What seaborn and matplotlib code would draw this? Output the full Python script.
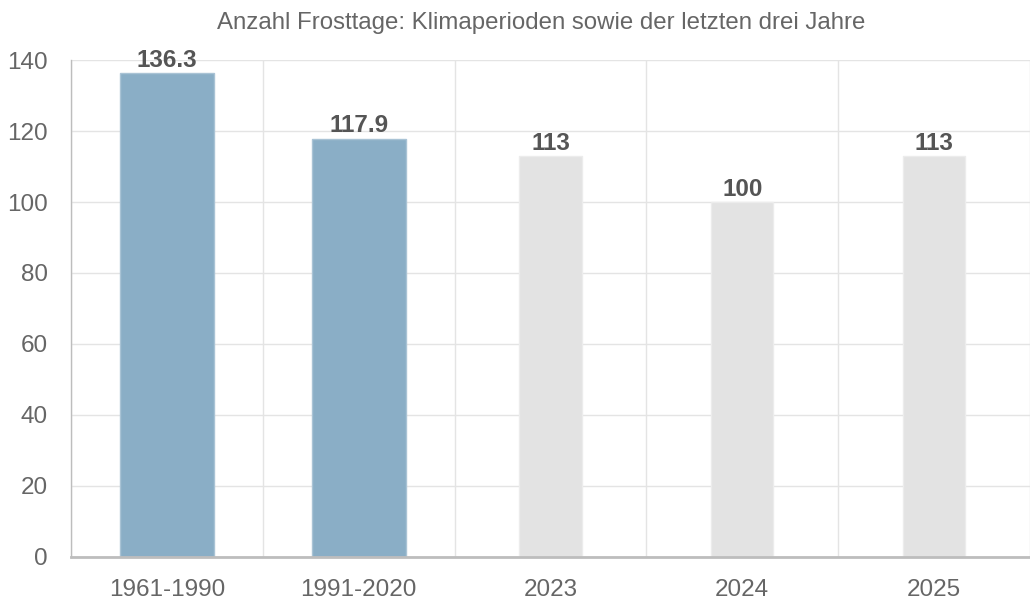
import numpy as np
import pandas as pd
import matplotlib
matplotlib.use("Agg")
import matplotlib.pyplot as plt
import seaborn as sns

# === Data ===
categories = ["1961-1990", "1991-2020", "2023", "2024", "2025"]
frost_days = [136.3, 117.9, 113, 100, 113]
period_labels = ["1961-1990", "1991-2020"]
year_labels = ["2023", "2024", "2025"]
title = "Anzahl Frosttage: Klimaperioden sowie der letzten drei Jahre"

df = pd.DataFrame({"kategorie": categories, "frosttage": frost_days})
periods = df[df["kategorie"].isin(period_labels)]
years = df[df["kategorie"].isin(year_labels)]

sns.set_style("white")
plt.rcParams["font.family"] = ["Liberation Sans", "DejaVu Sans"]

fig = plt.figure(figsize=(10.3, 6.04), dpi=100)
ax = fig.add_axes([0.0689, 0.0786, 0.9311, 0.8216])

# climate periods: wide blue bars, single years: narrow grey bars
sns.barplot(data=periods, x="kategorie", y="frosttage", order=categories,
            color="#8aaec6", saturation=1, width=0.49, ax=ax,
            edgecolor="#a9c3d5", linewidth=1)
sns.barplot(data=years, x="kategorie", y="frosttage", order=categories,
            color="#e3e3e3", saturation=1, width=0.324, ax=ax,
            edgecolor="#ececec", linewidth=1)

# value labels above the bars
for cont in ax.containers:
    ax.bar_label(cont, labels=[f"{v:g}" for v in cont.datavalues],
                 fontsize=17.5, fontweight="bold", color="#555555", padding=1)

ax.set_ylim(0, 140)
ax.set_yticks(np.arange(0, 141, 20))
ax.set_xlim(-0.5, -0.5 + 959 / 193.4)

# gridlines: horizontal at y ticks, vertical at category boundaries
ax.set_xticks(np.arange(-0.5, len(categories), 1.0), minor=True)
ax.grid(axis="y", color="#e4e4e4", linewidth=1)
ax.grid(axis="x", which="minor", color="#e4e4e4", linewidth=1)
ax.grid(axis="x", which="major", visible=False)
ax.set_axisbelow(True)

ax.tick_params(axis="x", which="major", length=0, pad=16, labelsize=17.5, labelcolor="#666666")
ax.tick_params(axis="x", which="minor", length=16, width=1, color="#e4e4e4")
ax.tick_params(axis="y", length=15, width=1, color="#d0d0d0", pad=1.5, labelsize=17.5, labelcolor="#666666")

for side in ["top", "right"]:
    ax.spines[side].set_visible(False)
ax.spines["left"].set_color("#bdbdbd")
ax.spines["bottom"].set_color("#bdbdbd")
ax.spines["bottom"].set_linewidth(2)
ax.spines["left"].set_linewidth(1)

ax.set_xlabel("")
ax.set_ylabel("")
fig.text(0.525, 0.962, title, ha="center", va="center", fontsize=17.3, color="#666666")

fig.savefig("out.png", dpi=100)
